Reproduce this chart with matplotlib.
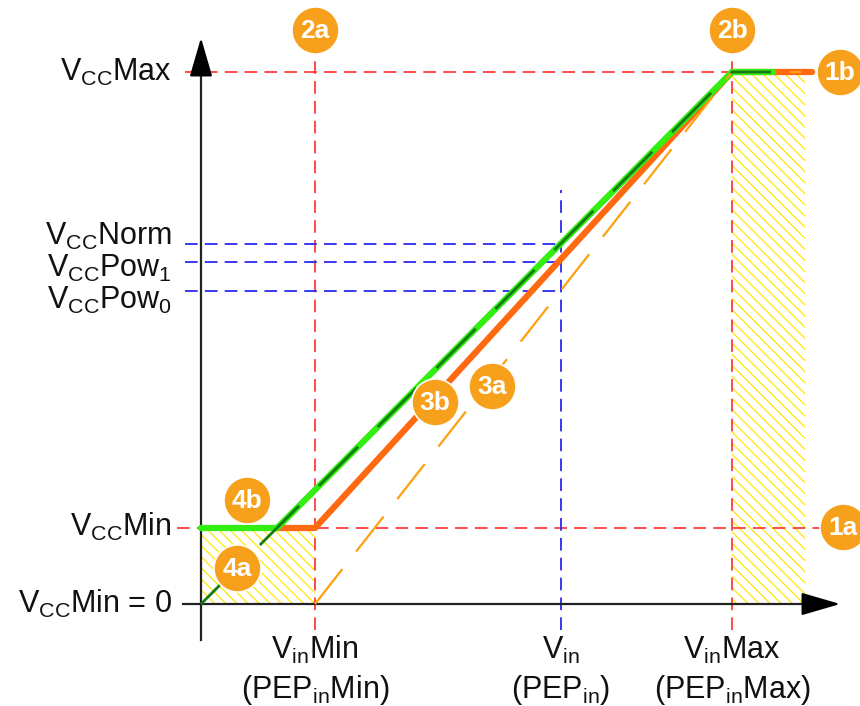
import matplotlib
matplotlib.use('Agg')
import matplotlib.pyplot as plt
from matplotlib.patches import Rectangle

plt.rcParams['font.family'] = ['Liberation Sans', 'DejaVu Sans']
plt.rcParams['mathtext.fontset'] = 'custom'
plt.rcParams['mathtext.rm'] = 'Liberation Sans'
plt.rcParams['hatch.linewidth'] = 0.9

# Levels (arbitrary units)
# ----------------------------------------------------------------------------

vin_min = 114
vin = 360
vin_max = 531
x_end = 611

vcc_zero = 0
vcc_min = 76
vcc_pow0 = 313
vcc_pow1 = 342
vcc_norm = 360
vcc_max = 532

# characteristic curves
green_x = [0, 76, vin_max, 572]
green_y = [vcc_min, vcc_min, vcc_max, vcc_max]
orange_x = [76, vin_min, vin_max, x_end]
orange_y = [vcc_min, vcc_min, vcc_max, vcc_max]
dkgreen_x = [0, vin_max, 570]
dkgreen_y = [vcc_zero, vcc_max, vcc_max]
ltorange_x = [vin_min, vin_max, 600]
ltorange_y = [vcc_zero, vcc_max, vcc_max]

left_labels = [r'V$_{\rm CC}$Max', r'V$_{\rm CC}$Norm', r'V$_{\rm CC}$Pow$_1$',
               r'V$_{\rm CC}$Pow$_0$', r'V$_{\rm CC}$Min', r'V$_{\rm CC}$Min = 0']
left_label_y = [532, 368, 336, 304, 77, 0]

bottom_labels = [(r'V$_{\rm in}$Min', r'(PEP$_{\rm in}$Min)'),
                 (r'V$_{\rm in}$', r'(PEP$_{\rm in}$)'),
                 (r'V$_{\rm in}$Max', r'(PEP$_{\rm in}$Max)')]
bottom_label_x = [vin_min, vin, vin_max]

markers = ['2a', '2b', '1b', '1a', '3b', '3a', '4b', '4a']
marker_x = [114, 531, 639, 642, 234, 291, 46, 36]
marker_y = [574, 574, 532, 77, 202, 218, 104, 36]

# Plot
# ----------------------------------------------------------------------------

fig = plt.figure(figsize=(8.6, 7.06), dpi=100)
ax = fig.add_axes([0, 0, 1, 1])
ax.set_xlim(-201, 659)
ax.set_ylim(-102, 604)
ax.axis('off')

red = '#FF3B3B'
blue = '#2A2AF0'
ink = '#111111'
dash = (0, (7, 4))

# hatched regions
for x0, y0, w, h in [(0, 0, vin_min, vcc_min), (vin_max, 0, 604 - vin_max, vcc_max)]:
    ax.add_patch(Rectangle((x0, y0), w, h, facecolor='white', edgecolor='#FFE800',
                           hatch='\\\\\\', linewidth=0, zorder=1))

# guide lines
ax.plot([-16, 624], [vcc_max, vcc_max], color=red, lw=1.3, ls=dash, zorder=2)
ax.plot([-24, 624], [vcc_min, vcc_min], color=red, lw=1.3, ls=dash, zorder=2)
ax.plot([vin_min, vin_min], [-26, 562], color=red, lw=1.3, ls=dash, zorder=2)
ax.plot([vin_max, vin_max], [-26, 560], color=red, lw=1.3, ls=dash, zorder=2)
for level in [vcc_norm, vcc_pow1, vcc_pow0]:
    ax.plot([-16, vin], [level, level], color=blue, lw=1.3, ls=dash, zorder=2)
ax.plot([vin, vin], [-26, 414], color=blue, lw=1.3, ls=dash, zorder=2)

# axes with arrows
ax.plot([-18, 620], [0, 0], color='#222222', lw=1.6, zorder=3)
ax.plot([0, 0], [-36, 550], color='#222222', lw=1.6, zorder=3)
arrow = dict(arrowstyle='-|>,head_length=1.1,head_width=0.32',
             color='black', lw=1.6, mutation_scale=22)
ax.annotate('', xy=(642, 0), xytext=(600, 0), arrowprops=arrow, zorder=3)
ax.annotate('', xy=(0, 569), xytext=(0, 530), arrowprops=arrow, zorder=3)

# curves
ax.plot(orange_x, orange_y, color='#FF6A10', lw=4.5, solid_capstyle='round',
        solid_joinstyle='round', zorder=4)
ax.plot(green_x, green_y, color='#33EE11', lw=4.5, solid_capstyle='round',
        solid_joinstyle='round', zorder=5)
ax.plot(ltorange_x, ltorange_y, color='#FFA010', lw=1.6, ls=(0, (20, 10)), zorder=6)
ax.plot(dkgreen_x, dkgreen_y, color='#157A15', lw=2.0, ls=(0, (20, 10)), zorder=6)

# text labels
for label, y in zip(left_labels, left_label_y):
    ax.text(-29, y, label, ha='right', va='center', fontsize=22, color=ink)
for (top, bottom), x in zip(bottom_labels, bottom_label_x):
    ax.text(x, -46, top, ha='center', va='center', fontsize=22, color=ink)
    ax.text(x, -86, bottom, ha='center', va='center', fontsize=22, color=ink)

# numbered markers
ax.scatter(marker_x, marker_y, s=1150, color='#F7A01B', edgecolor='white',
           linewidth=1.2, zorder=8)
for m, x, y in zip(markers, marker_x, marker_y):
    ax.text(x, y - 1, m, ha='center', va='center', fontsize=19, color='white',
            fontweight='bold', zorder=9)

fig.savefig('out.png', dpi=100)
